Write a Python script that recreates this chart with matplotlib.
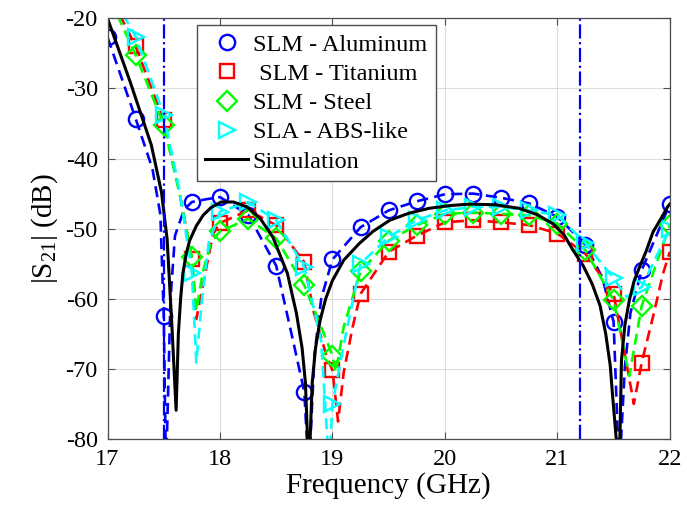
import matplotlib
matplotlib.use("Agg")
import matplotlib.pyplot as plt

plt.rcParams["font.family"] = ["Liberation Serif", "DejaVu Serif"]
plt.rcParams["mathtext.fontset"] = "custom"
plt.rcParams["mathtext.rm"] = "Liberation Serif"
plt.rcParams["mathtext.it"] = "Liberation Serif:italic"
plt.rcParams["axes.unicode_minus"] = False

# ===== DATA =====
# sampled points every 0.25 GHz (markers)
f_mark = [17.0, 17.25, 17.5, 17.75, 18.0, 18.25, 18.5, 18.75, 19.0, 19.25, 19.5,
          19.75, 20.0, 20.25, 20.5, 20.75, 21.0, 21.25, 21.5, 21.75, 22.0]
al_mark = [-22.7, -34.3, -62.4, -46.2, -45.5, -48.0, -55.3, -73.3, -54.4, -49.8, -47.4,
           -46.1, -45.1, -45.0, -45.6, -46.4, -48.3, -52.3, -63.3, -55.9, -46.5]
ti_mark = [-16.0, -24.0, -34.5, -54.3, -49.2, -47.4, -49.5, -54.8, -70.2, -59.3, -53.3,
           -51.0, -49.1, -48.8, -49.1, -49.5, -50.7, -53.6, -59.3, -69.1, -53.3]
st_mark = [-16.5, -25.2, -35.2, -54.1, -50.4, -48.6, -51.4, -58.1, -68.1, -56.1, -51.7,
           -49.5, -47.9, -47.7, -47.9, -48.1, -49.3, -53.1, -60.2, -61.0, -49.5]
abs_mark = [-15.5, -22.6, -33.8, -56.3, -47.6, -46.2, -48.8, -55.5, -75.0, -55.0, -51.2,
            -48.8, -47.4, -46.9, -46.9, -47.4, -48.1, -52.1, -57.1, -58.3, -50.0]

# measured traces (dashed)
al_f = [17.0, 17.25, 17.4, 17.47, 17.5, 17.52, 17.56, 17.6, 17.68, 17.75, 17.88, 18.0,
        18.25, 18.5, 18.65, 18.75, 18.79, 18.84, 18.9, 19.0, 19.25, 19.5, 19.75, 20.0,
        20.25, 20.5, 20.75, 21.0, 21.25, 21.4, 21.5, 21.55, 21.6, 21.65, 21.75, 22.0]
al_db = [-22.7, -34.3, -41.5, -48.0, -62.4, -85.0, -60.0, -51.0, -47.3, -46.2, -45.8, -45.5,
         -48.0, -55.3, -66.0, -73.3, -85.0, -68.0, -60.0, -54.4, -49.8, -47.4, -46.1, -45.1,
         -45.0, -45.6, -46.4, -48.3, -52.3, -57.0, -63.3, -85.0, -69.8, -62.0, -55.9, -46.5]

ti_f = [17.0, 17.25, 17.5, 17.64, 17.75, 17.79, 17.84, 17.9, 17.94, 18.0, 18.25, 18.5,
        18.75, 18.83, 18.95, 19.0, 19.05, 19.1, 19.18, 19.25, 19.5, 19.75, 20.0, 20.25,
        20.5, 20.75, 21.0, 21.25, 21.5, 21.61, 21.68, 21.75, 21.85, 21.94, 22.0]
ti_db = [-16.0, -24.0, -34.5, -44.8, -54.3, -62.9, -58.8, -53.8, -50.7, -49.2, -47.4, -49.5,
         -54.8, -61.7, -68.3, -70.2, -77.5, -70.5, -64.0, -59.3, -53.3, -51.0, -49.1, -48.8,
         -49.1, -49.5, -50.7, -53.6, -59.3, -68.8, -75.0, -69.1, -62.6, -56.4, -53.3]

st_f = [17.0, 17.25, 17.5, 17.64, 17.75, 17.79, 17.85, 17.92, 18.0, 18.25, 18.5, 18.75,
        18.9, 19.0, 19.03, 19.1, 19.25, 19.5, 19.75, 20.0, 20.25, 20.5, 20.75, 21.0,
        21.25, 21.5, 21.64, 21.75, 22.0]
st_db = [-16.5, -25.2, -35.2, -45.0, -54.1, -61.7, -56.0, -52.0, -50.4, -48.6, -51.4, -58.1,
         -64.0, -68.1, -70.5, -64.0, -56.1, -51.7, -49.5, -47.9, -47.7, -47.9, -48.1, -49.3,
         -53.1, -60.2, -71.0, -61.0, -49.5]

abs_f = [17.0, 17.25, 17.5, 17.64, 17.75, 17.79, 17.84, 17.9, 18.0, 18.25, 18.5, 18.75,
         18.9, 18.97, 19.0, 19.12, 19.2, 19.25, 19.5, 19.75, 20.0, 20.25, 20.5, 20.75,
         21.0, 21.25, 21.5, 21.62, 21.75, 22.0]
abs_db = [-15.5, -22.6, -33.8, -44.5, -56.3, -69.1, -60.0, -52.0, -47.6, -46.2, -48.8, -55.5,
          -66.0, -84.0, -75.0, -65.0, -58.8, -55.0, -51.2, -48.8, -47.4, -46.9, -46.9, -47.4,
          -48.1, -52.1, -57.1, -59.8, -58.3, -50.0]

# full-wave simulation
sim_f = [17.0, 17.2, 17.39, 17.48, 17.53, 17.57, 17.61, 17.63, 17.65, 17.67, 17.7, 17.73,
         17.79, 17.85, 17.92, 18.01, 18.12, 18.24, 18.36, 18.47, 18.6, 18.68, 18.73, 18.76,
         18.79, 18.82, 18.85, 18.89, 18.94, 19.0, 19.1, 19.24, 19.36, 19.51, 19.68, 19.86,
         20.05, 20.22, 20.45, 20.66, 20.82, 20.96, 21.06, 21.14, 21.23, 21.31, 21.38,
         21.43, 21.47, 21.49, 21.55, 21.57, 21.6, 21.64, 21.68, 21.73, 21.79, 21.85, 21.92,
         21.98, 22.0]
sim_db = [-20.0, -29.0, -38.1, -44.8, -51.5, -63.1, -75.9, -65.0, -60.0, -56.4, -53.6, -51.7,
          -49.6, -48.1, -47.0, -46.2, -46.2, -46.9, -48.6, -51.2, -56.4, -62.1, -67.0, -72.0,
          -85.0, -72.0, -67.0, -63.1, -60.0, -57.4, -54.5, -52.1, -50.4, -48.8, -47.8, -47.1,
          -46.7, -46.5, -46.6, -47.1, -48.0, -49.3, -50.9, -53.1, -55.3, -57.9, -61.0,
          -65.0, -69.5, -73.6, -85.0, -68.8, -63.8, -60.2, -57.6, -55.5, -53.2, -50.5, -48.6,
          -46.9, -46.5]

band_edges = [17.5, 21.2]

# ===== PLOT =====
fig = plt.figure(figsize=(6.87, 5.21), dpi=100)
ax = fig.add_axes([0.1565, 0.1574, 0.8185, 0.8075])

series = [
    (al_f, al_db, al_mark, "#0000ff", "o", 11, "SLM - Aluminum"),
    (ti_f, ti_db, ti_mark, "#ff0000", "s", 10.5, " SLM - Titanium"),
    (st_f, st_db, st_mark, "#00ff00", "D", 10, "SLM - Steel"),
    (abs_f, abs_db, abs_mark, "#00ffff", ">", 11.5, "SLA - ABS-like"),
]
for fx, fy, my, col, mk, ms, lab in series:
    ax.plot(fx, fy, color=col, lw=1.9, linestyle=(0, (4.2, 2.4)))
    ax.plot(f_mark, my, linestyle="none", marker=mk, ms=ms, mfc="none",
            mec=col, mew=1.7, label=lab)

ax.plot(sim_f, sim_db, "-", color="black", lw=2.2, label="Simulation")

for fe in band_edges:
    ax.axvline(fe, color="#0000ff", lw=1.6, linestyle="-.")

ax.set_xlim(17, 22)
ax.set_ylim(-80, -20)
ax.set_xticks([17, 18, 19, 20, 21, 22])
ax.set_yticks([-80, -70, -60, -50, -40, -30, -20])
ax.grid(True, color="#dcdcdc", lw=0.8)
ax.set_axisbelow(True)
ax.tick_params(direction="in", top=True, right=True, labelsize=17.5, length=5,
               width=0.8, color="0.3", pad=7)
for sp in ax.spines.values():
    sp.set_color("0.3")
    sp.set_linewidth(0.9)

ax.set_xlabel("Frequency (GHz)", fontsize=21, labelpad=2)
ax.set_ylabel(r"|S$_{21}$| (dB)", fontsize=21, labelpad=4)

leg = ax.legend(loc="upper left", bbox_to_anchor=(0.159, 0.984), fontsize=17.5,
                frameon=True, fancybox=False, edgecolor="0.3", framealpha=1,
                borderaxespad=0, borderpad=0.35, handlelength=1.75,
                handletextpad=0.2, labelspacing=0.3)
leg.get_frame().set_linewidth(1.0)

fig.savefig("out.png", dpi=100)
